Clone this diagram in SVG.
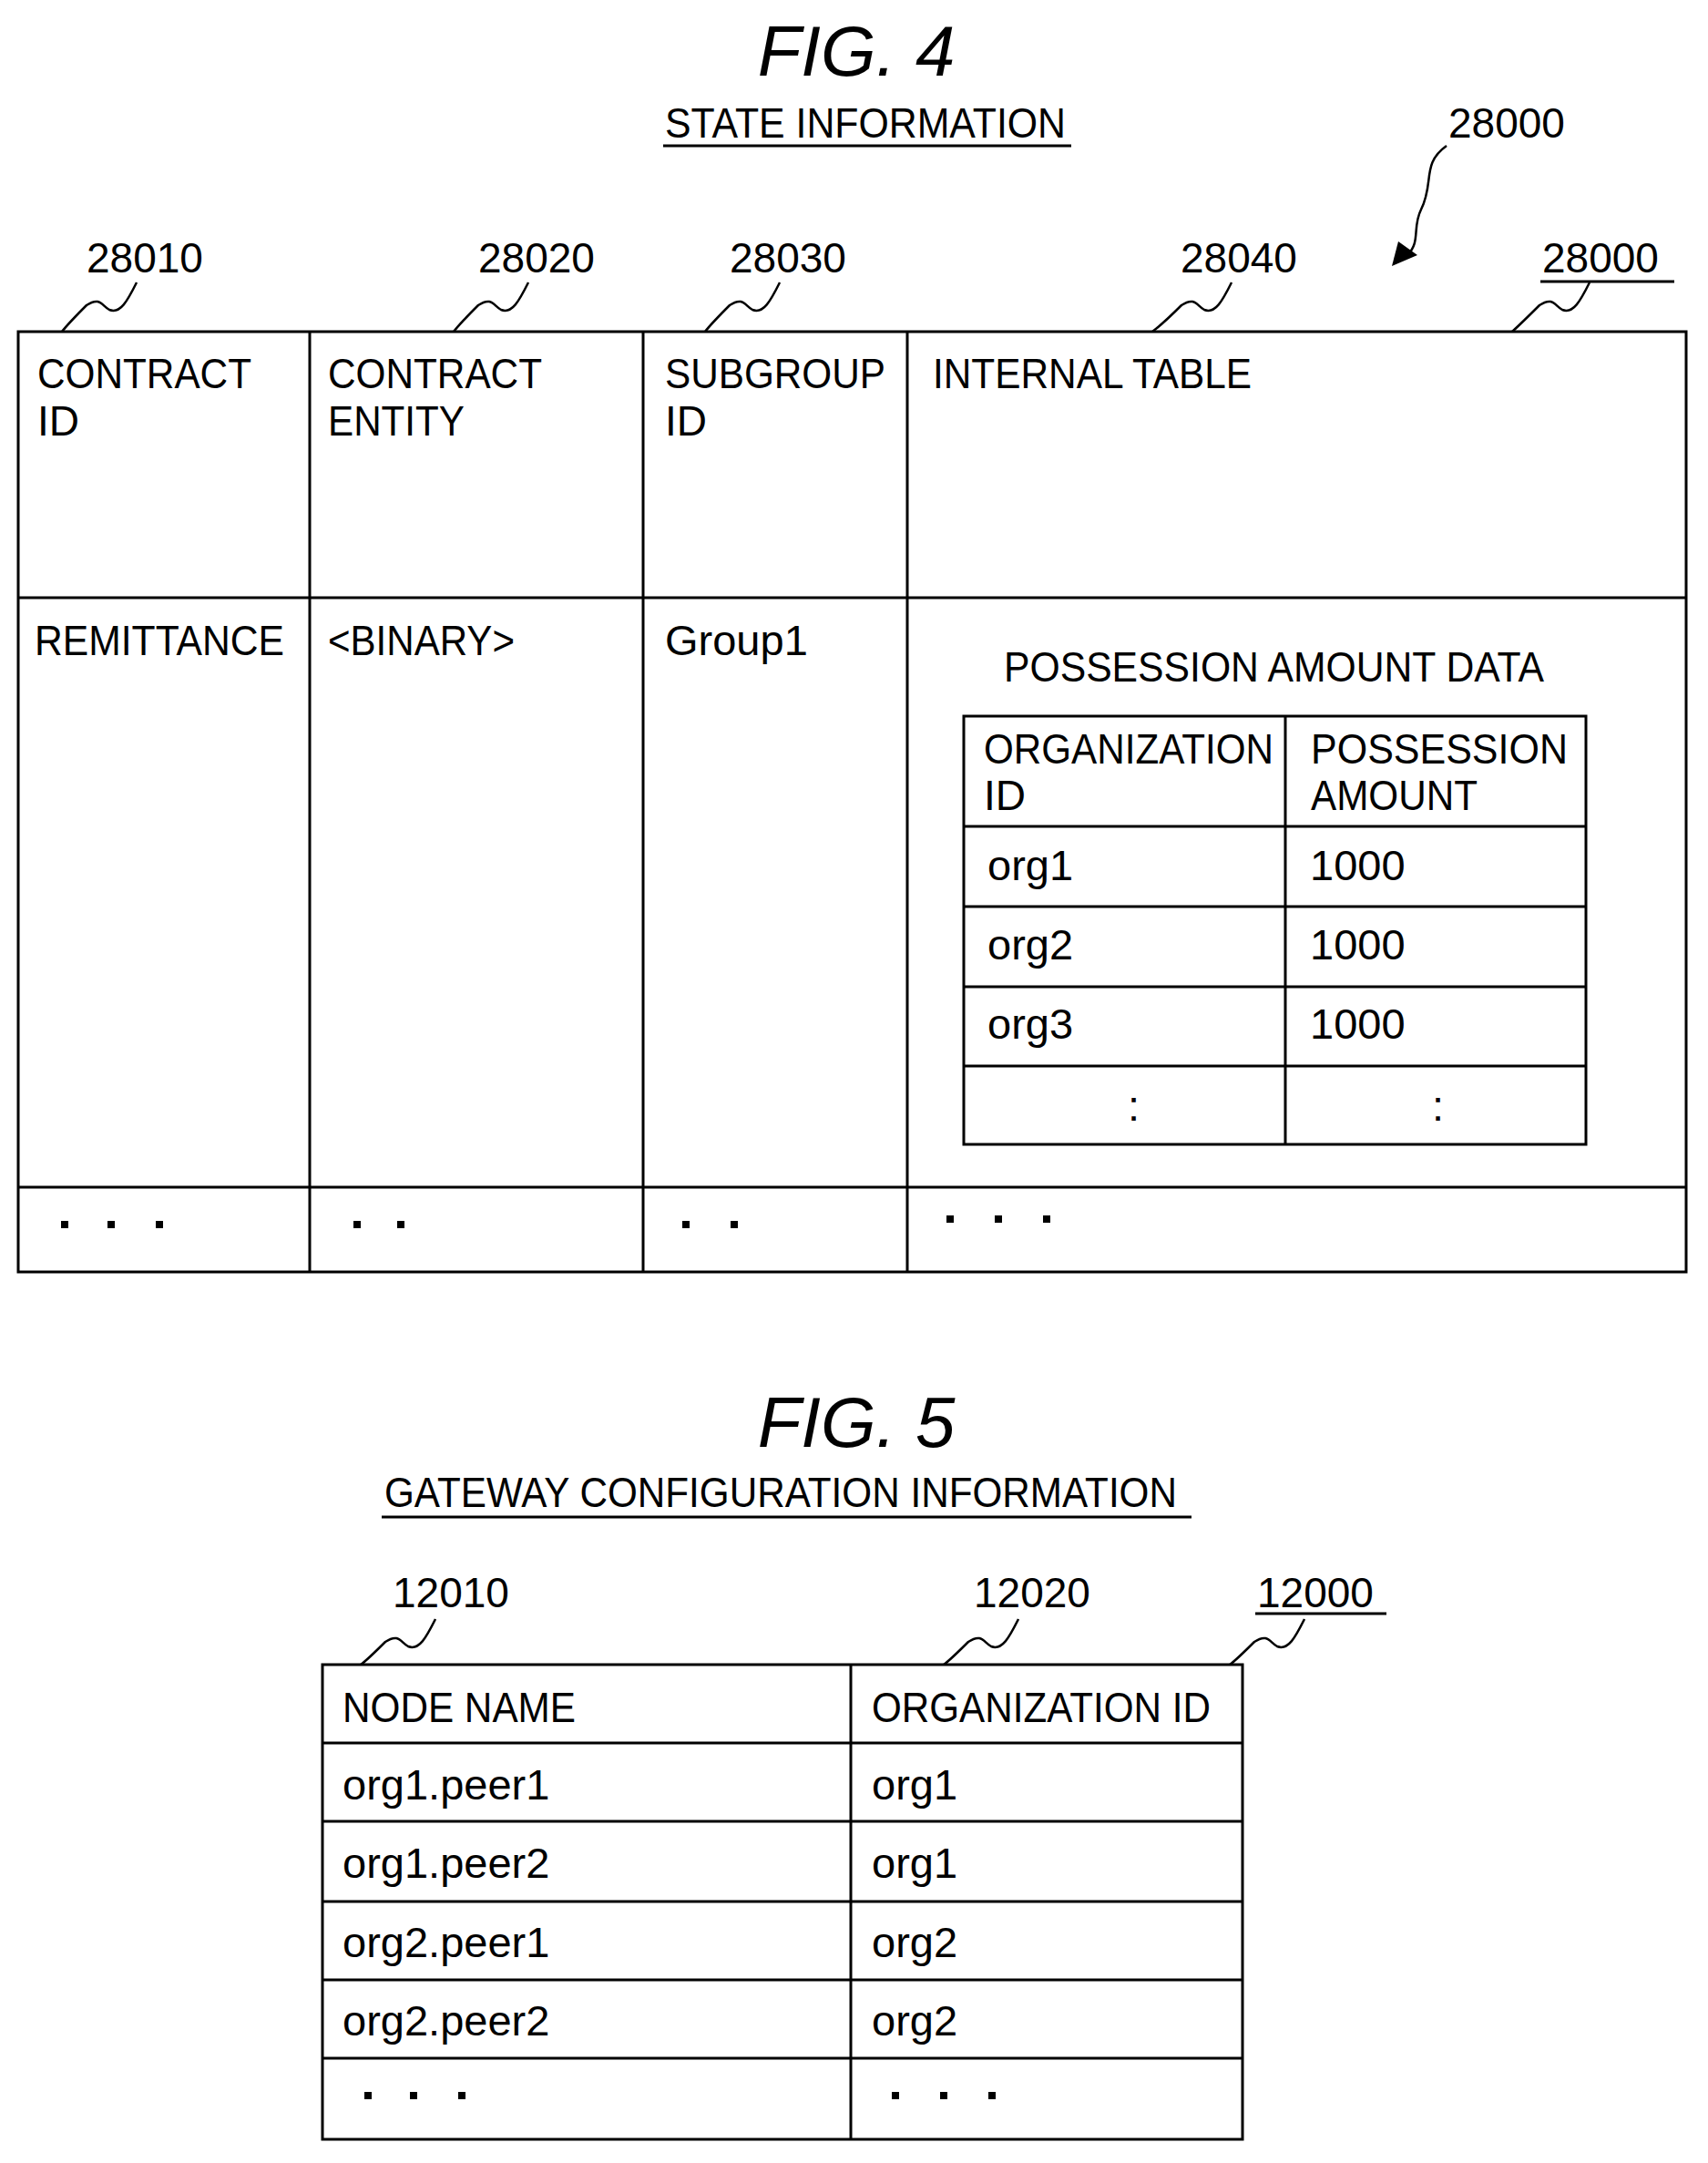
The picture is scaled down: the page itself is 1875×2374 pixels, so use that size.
<svg xmlns="http://www.w3.org/2000/svg" width="1875" height="2374" viewBox="0 0 1875 2374">
<style>
text{font-family:"Liberation Sans",Arial,sans-serif;fill:#000}
.t{font-size:47px}
.u{font-size:46px}
.fig{font-size:78px;font-style:italic;text-anchor:middle}
.ln{stroke:#000;stroke-width:3;fill:none}
.sq{stroke:#000;stroke-width:2.5;fill:none}
.d{fill:#000}
</style>
<rect width="1875" height="2374" fill="#fff"/>
<g id="fig4-title">
<text class="fig" x="940" y="83">FIG. 4</text>
<text class="u" x="730" y="151" textLength="440" lengthAdjust="spacingAndGlyphs">STATE INFORMATION</text>
<line class="ln" x1="728" y1="160" x2="1176" y2="160"/>
</g>
<g id="labels4">
<text class="u" x="1590" y="151">28000</text>
<text class="u" x="95" y="299">28010</text>
<text class="u" x="525" y="299">28020</text>
<text class="u" x="801" y="299">28030</text>
<text class="u" x="1296" y="299">28040</text>
<text class="u" x="1693" y="299">28000</text>
<line class="ln" x1="1691" y1="309" x2="1838" y2="309"/>
</g>
<g id="connectors">
<path class="sq" d="M1588,160 C1560,180 1575,200 1560,230 C1550,250 1560,265 1545,280"/>
<path d="M1528,292 L1535,265 L1556,280 Z" fill="#000"/>
<path class="sq" d="M150,310 C140,330 132,345 120,340 C112,336 110,325 95,335 C85,345 75,355 68,364"/>
<path class="sq" d="M580,310 C570,330 562,345 550,340 C542,336 540,325 525,335 C515,345 505,355 498,364"/>
<path class="sq" d="M856,310 C846,330 838,345 826,340 C818,336 816,325 801,335 C791,345 781,355 774,364"/>
<path class="sq" d="M1352,310 C1342,330 1334,345 1322,340 C1314,336 1312,325 1297,335 C1287,345 1277,355 1265,364"/>
<path class="sq" d="M1745,310 C1735,330 1727,345 1715,340 C1707,336 1705,325 1690,335 C1680,345 1670,355 1660,364"/>
<path class="sq" d="M478,1777 C468,1797 460,1812 448,1807 C440,1803 438,1792 423,1802 C413,1812 403,1822 396,1827"/>
<path class="sq" d="M1118,1777 C1108,1797 1100,1812 1088,1807 C1080,1803 1078,1792 1063,1802 C1053,1812 1043,1822 1036,1827"/>
<path class="sq" d="M1432,1777 C1422,1797 1414,1812 1402,1807 C1394,1803 1392,1792 1377,1802 C1367,1812 1357,1822 1350,1827"/>
</g>
<g id="state-table">
<rect class="ln" x="20" y="364" width="1831" height="1032"/>
<line class="ln" x1="340" y1="364" x2="340" y2="1396"/>
<line class="ln" x1="706" y1="364" x2="706" y2="1396"/>
<line class="ln" x1="996" y1="364" x2="996" y2="1396"/>
<line class="ln" x1="20" y1="656" x2="1851" y2="656"/>
<line class="ln" x1="20" y1="1303" x2="1851" y2="1303"/>
<text class="u" x="41" y="426" textLength="235" lengthAdjust="spacingAndGlyphs">CONTRACT</text>
<text class="u" x="41" y="478">ID</text>
<text class="u" x="360" y="426" textLength="235" lengthAdjust="spacingAndGlyphs">CONTRACT</text>
<text class="u" x="360" y="478" textLength="150" lengthAdjust="spacingAndGlyphs">ENTITY</text>
<text class="u" x="730" y="426" textLength="242" lengthAdjust="spacingAndGlyphs">SUBGROUP</text>
<text class="u" x="730" y="478">ID</text>
<text class="u" x="1024" y="426" textLength="350" lengthAdjust="spacingAndGlyphs">INTERNAL TABLE</text>
<text class="u" x="38" y="719" textLength="274" lengthAdjust="spacingAndGlyphs">REMITTANCE</text>
<text class="u" x="360" y="719" textLength="205" lengthAdjust="spacingAndGlyphs">&lt;BINARY&gt;</text>
<text class="t" x="730" y="719">Group1</text>
<g class="d"><rect x="67" y="1340" width="8" height="8"/><rect x="118" y="1340" width="8" height="8"/><rect x="171" y="1340" width="8" height="8"/>
<rect x="388" y="1340" width="8" height="8"/><rect x="436" y="1340" width="8" height="8"/>
<rect x="749" y="1340" width="8" height="8"/><rect x="802" y="1340" width="8" height="8"/>
<rect x="1039" y="1334" width="8" height="8"/><rect x="1092" y="1334" width="8" height="8"/><rect x="1145" y="1334" width="8" height="8"/></g>
</g>
<g id="possession-table">
<text class="u" x="1102" y="748" textLength="593" lengthAdjust="spacingAndGlyphs">POSSESSION AMOUNT DATA</text>
<rect class="ln" x="1058" y="786" width="683" height="470"/>
<line class="ln" x1="1411" y1="786" x2="1411" y2="1256"/>
<line class="ln" x1="1058" y1="907" x2="1741" y2="907"/>
<line class="ln" x1="1058" y1="995" x2="1741" y2="995"/>
<line class="ln" x1="1058" y1="1083" x2="1741" y2="1083"/>
<line class="ln" x1="1058" y1="1170" x2="1741" y2="1170"/>
<text class="u" x="1080" y="838" textLength="318" lengthAdjust="spacingAndGlyphs">ORGANIZATION</text>
<text class="u" x="1080" y="889">ID</text>
<text class="u" x="1439" y="838" textLength="282" lengthAdjust="spacingAndGlyphs">POSSESSION</text>
<text class="u" x="1439" y="889" textLength="183" lengthAdjust="spacingAndGlyphs">AMOUNT</text>
<text class="t" x="1084" y="966">org1</text><text class="t" x="1438" y="966">1000</text>
<text class="t" x="1084" y="1053">org2</text><text class="t" x="1438" y="1053">1000</text>
<text class="t" x="1084" y="1140">org3</text><text class="t" x="1438" y="1140">1000</text>
<text class="t" x="1238" y="1230">:</text><text class="t" x="1572" y="1230">:</text>
</g>
<g id="fig5-title">
<text class="fig" x="940" y="1588">FIG. 5</text>
<text class="u" x="422" y="1654" textLength="870" lengthAdjust="spacingAndGlyphs">GATEWAY CONFIGURATION INFORMATION</text>
<line class="ln" x1="419" y1="1665" x2="1308" y2="1665"/>
</g>
<g id="labels5">
<text class="u" x="431" y="1764">12010</text>
<text class="u" x="1069" y="1764">12020</text>
<text class="u" x="1380" y="1764">12000</text>
<line class="ln" x1="1378" y1="1771" x2="1522" y2="1771"/>
</g>
<g id="gateway-table">
<rect class="ln" x="354" y="1827" width="1010" height="521"/>
<line class="ln" x1="934" y1="1827" x2="934" y2="2348"/>
<line class="ln" x1="354" y1="1913" x2="1364" y2="1913"/>
<line class="ln" x1="354" y1="1999" x2="1364" y2="1999"/>
<line class="ln" x1="354" y1="2087" x2="1364" y2="2087"/>
<line class="ln" x1="354" y1="2173" x2="1364" y2="2173"/>
<line class="ln" x1="354" y1="2259" x2="1364" y2="2259"/>
<text class="u" x="376" y="1890" textLength="256" lengthAdjust="spacingAndGlyphs">NODE NAME</text>
<text class="u" x="957" y="1890" textLength="372" lengthAdjust="spacingAndGlyphs">ORGANIZATION ID</text>
<text class="t" x="376" y="1975">org1.peer1</text><text class="t" x="957" y="1975">org1</text>
<text class="t" x="376" y="2061">org1.peer2</text><text class="t" x="957" y="2061">org1</text>
<text class="t" x="376" y="2148">org2.peer1</text><text class="t" x="957" y="2148">org2</text>
<text class="t" x="376" y="2234">org2.peer2</text><text class="t" x="957" y="2234">org2</text>
<g class="d"><rect x="400" y="2296" width="8" height="8"/><rect x="450" y="2296" width="8" height="8"/><rect x="503" y="2296" width="8" height="8"/>
<rect x="979" y="2296" width="8" height="8"/><rect x="1032" y="2296" width="8" height="8"/><rect x="1085" y="2296" width="8" height="8"/></g>
</g>
</svg>
